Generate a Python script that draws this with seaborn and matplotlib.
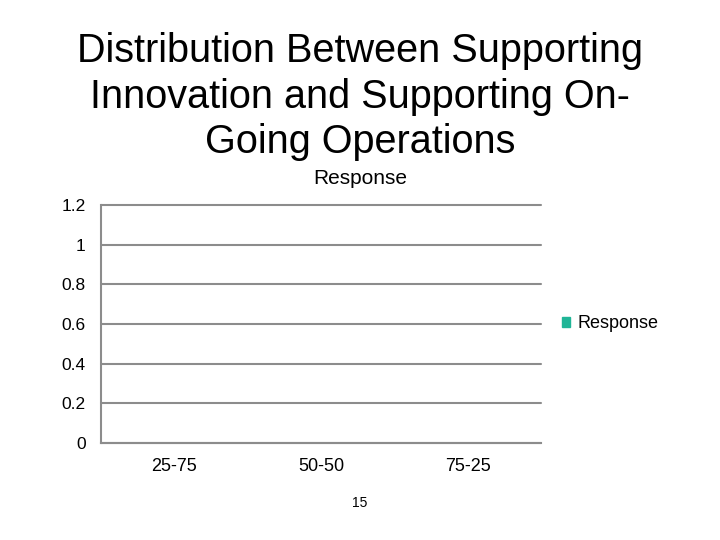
import matplotlib
matplotlib.use("Agg")
import matplotlib.pyplot as plt
import matplotlib.patches as mpatches
import pandas as pd
import seaborn as sns

categories = ["25-75", "50-50", "75-25"]
response = [0, 0, 0]
y_ticks = [0, 0.2, 0.4, 0.6, 0.8, 1, 1.2]
y_labels = ["0", "0.2", "0.4", "0.6", "0.8", "1", "1.2"]

BAR_COLOR = "#20B597"
GRID_COLOR = "#8c8c8c"

sns.set_theme(style="white")
plt.rcParams["font.family"] = ["Liberation Sans", "DejaVu Sans"]
plt.rcParams["text.color"] = "black"
plt.rcParams["xtick.color"] = "black"
plt.rcParams["ytick.color"] = "black"

df = pd.DataFrame({"category": categories, "Response": response})

fig = plt.figure(figsize=(7.2, 5.4), dpi=100)
ax = fig.add_axes([0.1403, 0.1796, 0.6111, 0.4408])

sns.barplot(data=df, x="category", y="Response", color=BAR_COLOR, ax=ax, width=0.6)

ax.set_xlim(-0.5, len(categories) - 0.5)
ax.set_ylim(0, 1.2)
ax.set_yticks(y_ticks)
ax.set_yticklabels(y_labels, fontsize=12.5)
ax.set_xlabel("")
ax.set_ylabel("")
ax.set_xticks(range(len(categories)))
ax.set_xticklabels(categories, fontsize=13)
ax.set_xticks([i - 0.5 for i in range(len(categories) + 1)], minor=True)
ax.tick_params(axis="x", which="major", length=0, pad=11)
ax.tick_params(axis="x", which="minor", length=6, width=1.5, color=GRID_COLOR, direction="out")
ax.tick_params(axis="y", length=6, width=1.5, color=GRID_COLOR, direction="out", pad=5)

ax.yaxis.grid(True, color=GRID_COLOR, linewidth=1.5)
for line in ax.get_ygridlines():
    line.set_clip_on(False)
ax.set_axisbelow(True)
for side in ["top", "right"]:
    ax.spines[side].set_visible(False)
for side in ["left", "bottom"]:
    ax.spines[side].set_color(GRID_COLOR)
    ax.spines[side].set_linewidth(1.5)

handle = mpatches.Patch(color=BAR_COLOR, label="Response")
ax.legend(handles=[handle], loc="center left", bbox_to_anchor=(1.01, 0.5),
          frameon=False, fontsize=13, handlelength=0.45, handleheight=0.5,
          handletextpad=0.4)

fig.text(0.5, 0.821, "Distribution Between Supporting\nInnovation and Supporting On-\nGoing Operations",
         ha="center", va="center", fontsize=28.5, linespacing=1.25)
fig.text(0.5, 0.669, "Response", ha="center", va="center", fontsize=15)
fig.text(0.5, 0.068, "15", ha="center", va="center", fontsize=10)

fig.savefig("out.png", dpi=100)
